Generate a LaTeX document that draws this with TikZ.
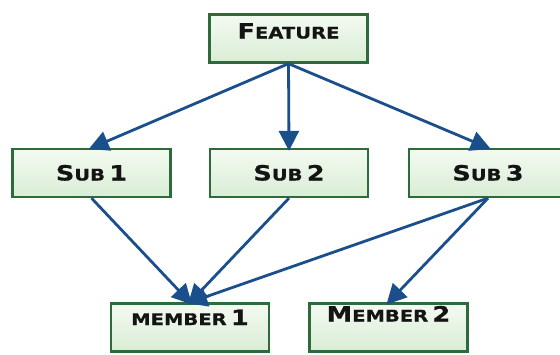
\documentclass[tikz,border=0pt]{standalone}
\usepackage{fontspec}
\setmainfont{DejaVu Sans}
\newfontfamily\cpfont[FakeStretch=1.22,FakeBold=0.6]{DejaVu Sans}
\usetikzlibrary{arrows.meta}
\definecolor{boxedge}{HTML}{2E6B3C}
\definecolor{boxtop}{HTML}{F3FAF1}
\definecolor{boxbot}{HTML}{D9EDD5}
\definecolor{arrowblue}{HTML}{1B4F8C}
\definecolor{ink}{HTML}{141414}
% hand-made small capitals: a tall initial and shorter capitals
\newcommand\tallcap[1]{{\fontsize{21pt}{21pt}\selectfont #1}}
\newcommand\shortcap[1]{{\fontsize{16pt}{16pt}\selectfont #1}}
\tikzset{
  featbox/.style={draw=boxedge, line width=2.3pt, top color=boxtop, bottom color=boxbot,
    minimum width=158pt, minimum height=48pt, inner sep=0pt, text=ink,
    font=\cpfont\bfseries},
  link/.style={draw=arrowblue, line width=2.8pt,
    -{Triangle[length=20pt,width=20pt]}, shorten >=-3pt}
}
\begin{document}
\begin{tikzpicture}[x=1pt,y=-1pt]
\useasboundingbox (0,0) rectangle (560,354);
\clip (0,0) rectangle (560,354);
\node[featbox, text height=15pt, text depth=15pt] (feat) at (288.5,38.5) {\tallcap{F}\shortcap{EATURE}};
\node[featbox, text height=15pt, text depth=0pt] (sub1) at (91.5,173) {\tallcap{S}\shortcap{UB} \tallcap{1}};
\node[featbox, text height=15pt, text depth=0pt] (sub2) at (289,173) {\tallcap{S}\shortcap{UB} \tallcap{2}};
\node[featbox, text height=15pt, text depth=0pt] (sub3) at (488,173) {\tallcap{S}\shortcap{UB} \tallcap{3}};
\node[featbox, text height=12pt, text depth=17pt] (mem1) at (190,327.5) {\shortcap{MEMBER} \tallcap{1}};
\node[featbox, text height=12pt, text depth=24pt] (mem2) at (388.5,327.5) {\tallcap{M}\shortcap{EMBER} \tallcap{2}};
\draw[link] (feat.south) -- (sub1.north);
\draw[link] (feat.south) -- (sub2.north);
\draw[link] (feat.south) -- (sub3.north);
\draw[link] (sub1.south) -- (mem1.north);
\draw[link] (sub2.south) -- (mem1.north);
\draw[link] (sub3.south) -- (mem1.north);
\draw[link] (sub3.south) -- (mem2.north);
\end{tikzpicture}
\end{document}
